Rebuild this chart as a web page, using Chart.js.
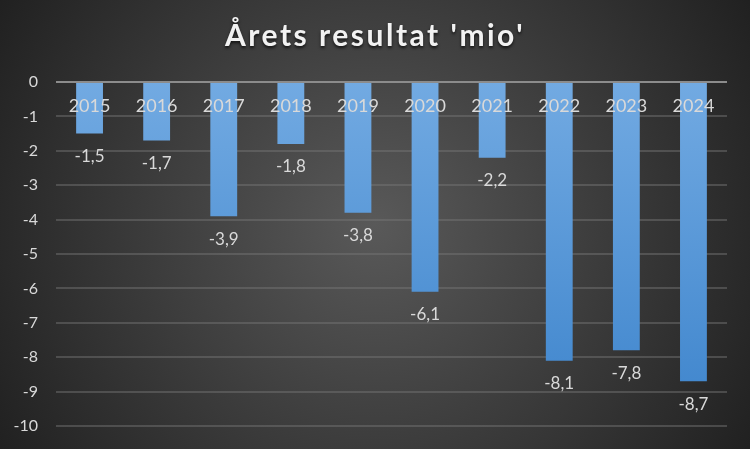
<!DOCTYPE html>
<html>
<head>
<meta charset="utf-8">
<script src="https://cdn.jsdelivr.net/npm/chart.js@4"></script>
<style>
  html, body { margin: 0; padding: 0; background: #1e1e1e; }
  #wrap { width: 750px; height: 449px; }
</style>
</head>
<body>
<div id="wrap"><canvas id="myChart" width="750" height="449"></canvas></div>
<script>
const title = "Årets resultat 'mio'";
const years = ['2015', '2016', '2017', '2018', '2019', '2020', '2021', '2022', '2023', '2024'];
const results = [-1.5, -1.7, -3.9, -1.8, -3.8, -6.1, -2.2, -8.1, -7.8, -8.7];
const yMin = -10;
const yMax = 0;

const fontFamily = 'Lato, "Open Sans", sans-serif';
const textColor = '#d9d9d9';

// background + title + labels
const decor = {
    id: 'decor',
    beforeDraw(chart) {
        const ctx = chart.ctx;
        const w = chart.width, h = chart.height;
        const g = ctx.createRadialGradient(w / 2, h / 2, 0, w / 2, h / 2, w * 0.6);
        g.addColorStop(0, '#595959');
        g.addColorStop(1, '#1f1f1f');
        ctx.save();
        ctx.fillStyle = g;
        ctx.fillRect(0, 0, w, h);
        ctx.restore();
    },
    afterDatasetsDraw(chart) {
        const ctx = chart.ctx;
        const x = chart.scales.x, y = chart.scales.y;
        const zero = y.getPixelForValue(0);
        ctx.save();
        // title
        ctx.font = 'bold 30px ' + fontFamily;
        ctx.letterSpacing = '2.5px';
        ctx.textAlign = 'center';
        ctx.textBaseline = 'middle';
        ctx.shadowColor = 'rgba(0,0,0,0.7)';
        ctx.shadowBlur = 3;
        ctx.shadowOffsetY = 2;
        ctx.fillStyle = '#f2f2f2';
        ctx.fillText(title, chart.width / 2, 36);
        ctx.shadowColor = 'transparent';
        ctx.letterSpacing = '0px';

        // category labels under the zero line
        ctx.font = '18px ' + fontFamily;
        ctx.fillStyle = textColor;
        years.forEach((yr, i) => {
            ctx.fillText(yr, x.getPixelForValue(i), zero + 24);
        });

        // value labels below the bars
        ctx.font = '17px ' + fontFamily;
        const meta = chart.getDatasetMeta(0);
        meta.data.forEach((bar, i) => {
            const label = String(results[i]).replace('.', ',');
            ctx.fillText(label, bar.x, bar.y + 23);
        });
        ctx.restore();
    }
};

const ctx = document.getElementById('myChart');
new Chart(ctx, {
    type: 'bar',
    data: {
        labels: years,
        datasets: [{
            data: results,
            borderWidth: 0,
            barPercentage: 0.4,
            categoryPercentage: 1,
            backgroundColor: (c) => {
                const area = c.chart.chartArea;
                if (!area) return '#5b9bd5';
                const g = c.chart.ctx.createLinearGradient(0, area.top, 0, area.bottom);
                g.addColorStop(0, '#72aae2');
                g.addColorStop(1, '#3d84cc');
                return g;
            }
        }]
    },
    options: {
        responsive: false,
        animation: false,
        layout: { padding: { top: 82, right: 23, bottom: 23, left: 0 } },
        plugins: {
            legend: { display: false },
            title: { display: false },
            tooltip: { enabled: false }
        },
        scales: {
            x: {
                position: 'top',
                display: false
            },
            y: {
                min: yMin,
                max: yMax,
                ticks: {
                    stepSize: 1,
                    color: textColor,
                    padding: 18,
                    font: { family: fontFamily, size: 16 }
                },
                border: { display: false },
                grid: {
                    drawTicks: false,
                    lineWidth: 2,
                    color: (c) => c.tick && c.tick.value === 0 ? '#8c8c8c' : 'rgba(120,120,120,0.45)'
                },
                afterFit(scale) {
                    scale.width = 56;
                    scale.paddingTop = 0;
                    scale.paddingBottom = 0;
                }
            }
        }
    },
    plugins: [decor]
});
</script>
</body>
</html>
